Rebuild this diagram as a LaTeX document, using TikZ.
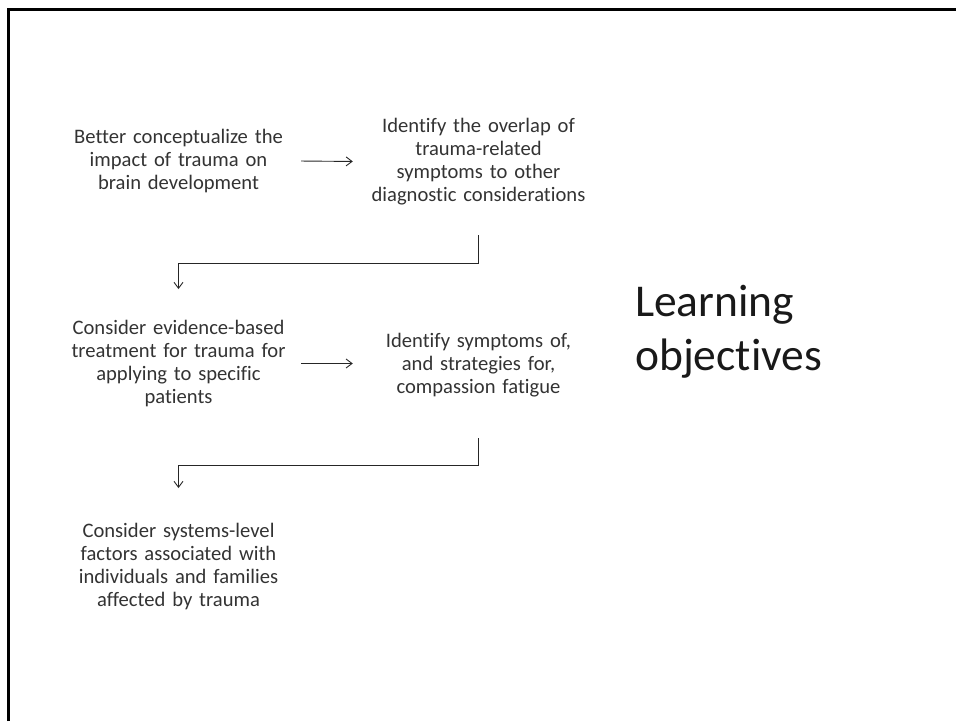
\documentclass[tikz,border=0pt]{standalone}
\usepackage{fontspec}
\setmainfont{Carlito}[Ligatures=NoCommon, WordSpace=0.9]
\usetikzlibrary{arrows.meta}
\begin{document}
\begin{tikzpicture}[x=1pt,y=-1pt,
  objective/.style={text width=240pt, align=center, inner sep=0pt,
    font=\fontsize{20.6}{23.2}\selectfont, text=black!80},
  flowarrow/.style={draw=black!85, line width=0.9pt,
    -{Straight Barb[length=6pt,width=9pt,line width=0.9pt]}},
  heading/.style={align=left, inner sep=0pt,
    font=\fontsize{45.5}{54}\selectfont, text=black!90}]
  \useasboundingbox (0,0) rectangle (956,721);
  % slide frame, open to the right and below
  \draw[line width=3pt] (8.5,721) -- (8.5,9.5) -- (956,9.5);

  % the five objectives
  \node[objective] (t1) at (178.5,161) {Better conceptualize the\\impact of trauma on\\brain development};
  \node[objective] (t2) at (478.5,161.5) {Identify the overlap of\\trauma-related\\symptoms to other\\diagnostic considerations};
  \node[objective] (t3) at (178.5,363.5) {Consider evidence-based\\treatment for trauma for\\applying to specific\\patients};
  \node[objective] (t4) at (478.5,365) {Identify symptoms of,\\and strategies for,\\compassion fatigue};
  \node[objective] (t5) at (178.5,566.5) {Consider systems-level\\factors associated with\\individuals and families\\affected by trauma};

  % heading
  \node[heading, anchor=base west] (title) at (635,370) {Learning\\objectives};

  % connectors
  \draw[flowarrow, shorten <=2.5pt, shorten >=5.5pt] (t1.east) -- (t2.west);
  \draw[flowarrow, shorten <=2.5pt, shorten >=5.5pt] (t3.east |- t3.center) -- (t4.west |- t3.center);
  \draw[flowarrow] ([yshift=-73.5pt]t2.center) -- ++(0,28) -| ([yshift=74.5pt]t3.center);
  \draw[flowarrow] ([yshift=-73pt]t4.center) -- ++(0,27) -| ([yshift=78.5pt]t5.center);
\end{tikzpicture}
\end{document}
